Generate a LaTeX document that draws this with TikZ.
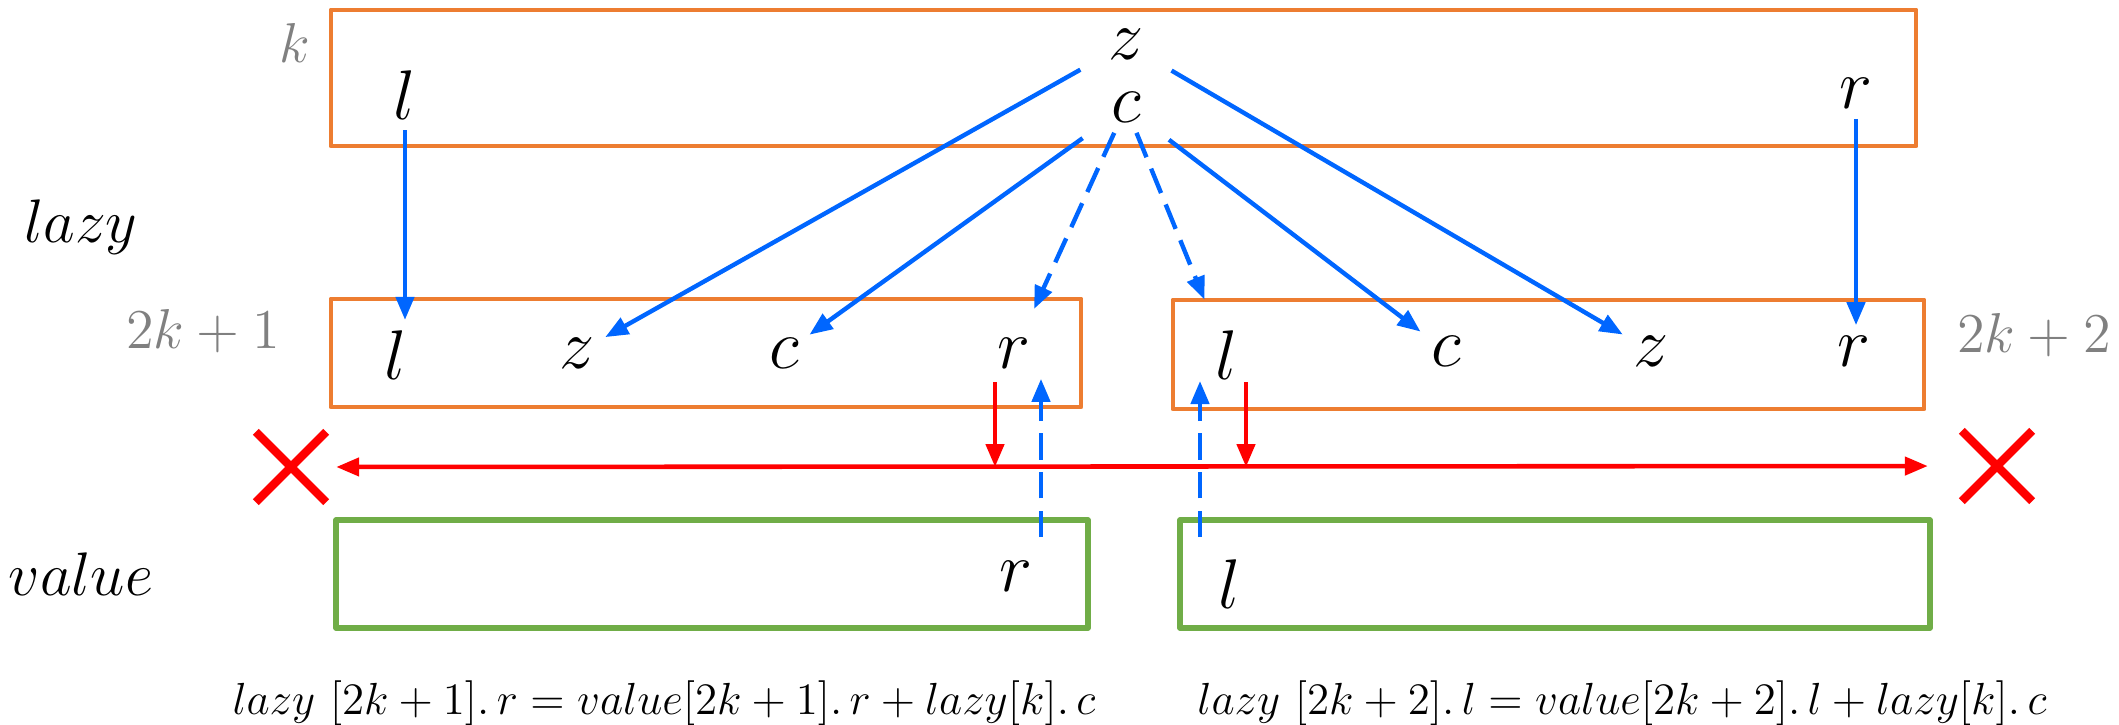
\RequirePackage{fix-cm}
\documentclass[tikz,border=0pt]{standalone}
\usetikzlibrary{arrows.meta,shapes.misc}
\definecolor{lzorange}{RGB}{237,125,49}
\definecolor{valgreen}{RGB}{112,173,71}
\definecolor{arblue}{RGB}{0,102,255}
\definecolor{idxgray}{RGB}{128,128,128}
\begin{document}
\begin{tikzpicture}[line join=round, >={Triangle[length=2.3mm,width=1.8mm]},
		lzbox/.style={draw=lzorange, line width=1.4pt},
		valbox/.style={draw=valgreen, line width=1.6pt},
		var/.style={font=\fontsize{20}{24}\selectfont, inner sep=0.1cm},
		idx/.style={font=\fontsize{16}{19}\selectfont, text=idxgray},
		arrname/.style={font=\fontsize{17.5}{21}\selectfont},
		push/.style={->, draw=arblue, line width=1.25pt},
		pushd/.style={push, dash pattern=on 7.5pt off 3.5pt},
		fix/.style={->, draw=red, line width=1.3pt},
		nope/.style={cross out, draw=red, line width=2.4pt, minimum size=0.62cm, inner sep=0pt},
		formula/.style={font=\fontsize{12.8}{16}\selectfont}]
	\useasboundingbox (0,0) rectangle (21.19,7.24);
	\draw[lzbox] (3.31,5.78) rectangle (19.16,7.14);
	\draw[lzbox] (3.31,3.17) rectangle (10.81,4.25);
	\draw[lzbox] (11.73,3.15) rectangle (19.24,4.24);
	\draw[valbox] (3.36,0.96) rectangle (10.88,2.04);
	\draw[valbox] (11.80,0.96) rectangle (19.30,2.04);
	\node[idx] (ik) at (2.95,6.81) {$k$};
	\node[idx] (ia) at (2.03,3.93) {$2k+1$};
	\node[idx] (ib) at (20.34,3.89) {$2k+2$};
	\node[arrname] (nlazy) at (0.81,4.97) {$lazy$};
	\node[arrname] (nvalue) at (0.81,1.50) {$value$};
	\node[var] (kz) at (11.26,6.80) {$z$};
	\node[var] (kc) at (11.26,6.17) {$c$};
	\node[var] (kl) at (4.05,6.29) {$l$};
	\node[var] (kr) at (18.56,6.31) {$r$};
	\node[var] (al) at (3.96,3.69) {$l$};
	\node[var] (az) at (5.77,3.71) {$z$};
	\node[var] (ac) at (7.84,3.71) {$c$};
	\node[var] (ar) at (10.14,3.71) {$r$};
	\node[var] (bl) at (12.27,3.69) {$l$};
	\node[var] (bc) at (14.46,3.73) {$c$};
	\node[var] (bz) at (16.51,3.73) {$z$};
	\node[var] (br) at (18.54,3.73) {$r$};
	\node[var] (vr) at (10.16,1.48) {$r$};
	\node[var] (vl) at (12.30,1.40) {$l$};
	\node[nope] (xl) at (2.91,2.57) {};
	\node[nope] (xr) at (19.97,2.58) {};
	\node[formula] (eqa) at (6.64,0.21) {$lazy\ [2k+1].\,r = value[2k+1].\,r + lazy[k].\,c$};
	\node[formula] (eqb) at (16.22,0.21) {$lazy\ [2k+2].\,l = value[2k+2].\,l + lazy[k].\,c$};
	\draw[push] (kl.south) -- (kl.south |- al.north);
	\draw[push] (kr.south) -- (kr.south |- br.north);
	\draw[push, shorten <=0.2cm] (kz) -- (az);
	\draw[push, shorten <=0.2cm] (kz) -- (bz);
	\draw[push, shorten <=0.22cm] (kc) -- (ac);
	\draw[push, shorten <=0.22cm] (kc) -- (bc);
	\draw[pushd, shorten >=0.2cm] (kc) -- (ar);
	\draw[pushd, shorten >=0.22cm] (kc) -- (bl);
	\draw[fix, <->, shorten <=0.1cm, shorten >=0.34cm] (xl) -- (xr);
	\coordinate (ra) at (9.95,3.42);
	\coordinate (rb) at (12.46,3.42);
	\draw[fix] (ra) -- (ra |- xl);
	\draw[fix] (rb) -- (rb |- xl);
	\coordinate (ua) at (10.41,1.87);
	\coordinate (ub) at (12.00,1.87);
	\coordinate (ut) at (12.00,3.43);
	\draw[pushd] (ua) -- (ua |- ar.south);
	\draw[pushd] (ub) -- (ut);
\end{tikzpicture}
\end{document}
